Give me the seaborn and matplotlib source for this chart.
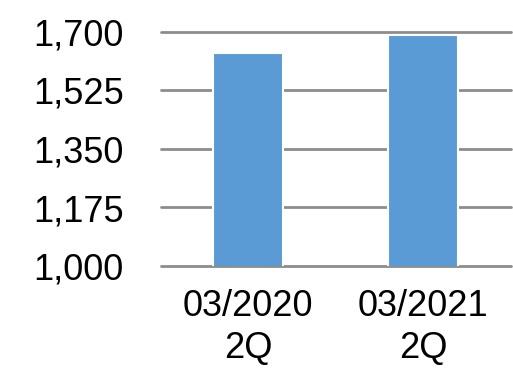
import matplotlib
matplotlib.use("Agg")
import matplotlib.pyplot as plt
import matplotlib.patheffects as pe
import seaborn as sns
import pandas as pd
from matplotlib.ticker import FuncFormatter

categories = ["03/2020\n2Q", "03/2021\n2Q"]
values = [1636, 1691]
yticks = [1000, 1175, 1350, 1525, 1700]

sns.set_style("white")
plt.rcParams['font.family'] = ['Liberation Sans', 'DejaVu Sans']

df = pd.DataFrame({"period": categories, "value": values})

fig = plt.figure(figsize=(5.13, 3.68), dpi=100)
ax = fig.add_axes([161/513, 1-266/368, (510.5-161)/513, (266-32)/368])

sns.barplot(data=df, x="period", y="value", color="#5B9BD5", saturation=1,
            width=0.4, edgecolor="white", linewidth=1.5, ax=ax, zorder=3)
for p in ax.patches:
    p.set_path_effects([pe.SimplePatchShadow(offset=(0.5, -2), shadow_rgbFace="black", alpha=0.12),
                        pe.Normal()])

ax.set_ylim(1000, 1700)
ax.set_yticks(yticks)
ax.yaxis.set_major_formatter(FuncFormatter(lambda v, p: f"{int(v):,}"))
ax.set_xlim(-0.5, 1.5)
ax.grid(axis="y", color="#8c8c8c", linewidth=2, zorder=0)
for gl in ax.get_ygridlines():
    gl.set_clip_on(False)
ax.set_axisbelow(True)
for s in ax.spines.values():
    s.set_visible(False)
ax.set_xlabel("")
ax.set_ylabel("")
ax.tick_params(axis="y", length=0, pad=27, labelsize=26, labelcolor="black")
ax.tick_params(axis="x", length=0, pad=16.5, labelsize=26, labelcolor="black")
for t in ax.get_xticklabels():
    t.set_linespacing(1.28)

fig.savefig("out.png", dpi=100)
